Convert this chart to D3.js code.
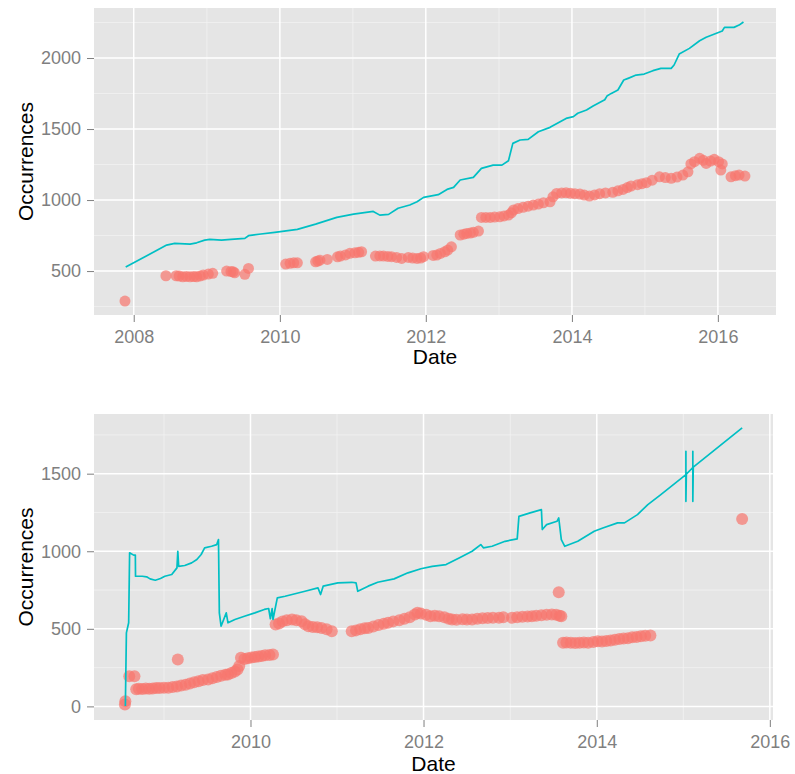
<!DOCTYPE html>
<html lang="en">

<head>
	<meta charset="utf-8">
	<title>Occurrences over time</title>
	<style>
		body {
			margin: 0;
			background: #fff;
			font-family: "Liberation Sans", Arial, sans-serif;
		}

		.tick text {
			fill: #7f7f7f;
			font-size: 18px;
		}

		.tick line {
			stroke: #7f7f7f;
		}

		.title {
			font-size: 21px;
			fill: #000;
		}
	</style>
</head>

<body>
	<svg></svg>

	<script src="https://d3js.org/d3.v7.min.js"></script>
	<script>
		// ---- top chart: decimal year + value ----
		var topLineDates = [2007.89, 2008.45, 2008.56, 2008.77, 2008.86, 2008.97, 2009.04, 2009.20, 2009.33, 2009.52,
			2009.57, 2009.74, 2009.93, 2010.24, 2010.49, 2010.78, 2011.01, 2011.28, 2011.37, 2011.49,
			2011.62, 2011.78, 2011.88, 2011.97, 2012.17, 2012.29, 2012.38, 2012.47, 2012.65, 2012.76,
			2012.92, 2013.04, 2013.13, 2013.19, 2013.29, 2013.40, 2013.54, 2013.70, 2013.92, 2014.02,
			2014.08, 2014.20, 2014.29, 2014.45, 2014.48, 2014.54, 2014.63, 2014.71, 2014.77, 2014.88,
			2014.99, 2015.11, 2015.22, 2015.36, 2015.40, 2015.47, 2015.61, 2015.75, 2015.84, 2016.06,
			2016.09, 2016.22, 2016.29, 2016.35];
		var topLineValues = [528, 683, 695, 690, 699, 718, 723, 718, 723, 730,
			749, 761, 773, 794, 831, 878, 901, 920, 894, 899,
			942, 965, 988, 1019, 1038, 1075, 1089, 1141, 1160, 1223,
			1246, 1246, 1277, 1399, 1423, 1427, 1481, 1512, 1575, 1587,
			1611, 1634, 1662, 1706, 1732, 1751, 1775, 1845, 1857, 1880,
			1887, 1911, 1927, 1927, 1951, 2028, 2068, 2122, 2146, 2190,
			2216, 2216, 2232, 2254];

		var topPointDates = [2007.88, 2008.44, 2008.58, 2008.62, 2008.67, 2008.72, 2008.77, 2008.82, 2008.86, 2008.91,
			2008.95, 2009.02, 2009.08, 2009.27, 2009.33, 2009.36, 2009.38, 2009.52, 2009.57, 2010.08,
			2010.14, 2010.19, 2010.24, 2010.49, 2010.52, 2010.55, 2010.65, 2010.79, 2010.83, 2010.90,
			2010.96, 2011.03, 2011.08, 2011.12, 2011.31, 2011.37, 2011.42, 2011.48, 2011.53, 2011.60,
			2011.67, 2011.76, 2011.82, 2011.88, 2011.93, 2011.97, 2012.10, 2012.15, 2012.20, 2012.26,
			2012.30, 2012.35, 2012.47, 2012.52, 2012.56, 2012.61, 2012.65, 2012.72, 2012.76, 2012.82,
			2012.88, 2012.94, 2013.01, 2013.07, 2013.13, 2013.17, 2013.20, 2013.26, 2013.33, 2013.40,
			2013.47, 2013.54, 2013.61, 2013.70, 2013.74, 2013.79, 2013.86, 2013.92, 2013.98, 2014.04,
			2014.11, 2014.17, 2014.24, 2014.31, 2014.38, 2014.46, 2014.56, 2014.63, 2014.70, 2014.76,
			2014.81, 2014.90, 2014.96, 2015.02, 2015.10, 2015.20, 2015.28, 2015.36, 2015.44, 2015.52,
			2015.59, 2015.63, 2015.68, 2015.75, 2015.80, 2015.84, 2015.90, 2015.95, 2016.01, 2016.06,
			2016.04, 2016.18, 2016.24, 2016.29, 2016.37];
		var topPointValues = [289, 467, 467, 465, 460, 462, 460, 461, 460, 466,
			472, 479, 484, 500, 497, 495, 488, 477, 519, 549,
			555, 558, 558, 565, 571, 577, 582, 600, 606, 614,
			625, 629, 632, 636, 606, 607, 606, 603, 601, 596,
			589, 596, 592, 589, 592, 601, 610, 613, 624, 636,
			648, 671, 754, 760, 765, 768, 773, 782, 878, 878,
			878, 880, 882, 888, 894, 910, 930, 940, 949, 957,
			965, 972, 981, 988, 1023, 1047, 1050, 1051, 1048, 1045,
			1042, 1035, 1028, 1036, 1045, 1050, 1055, 1065, 1075, 1088,
			1099, 1108, 1115, 1122, 1140, 1164, 1158, 1153, 1162, 1176,
			1199, 1254, 1270, 1294, 1280, 1258, 1275, 1287, 1270, 1254,
			1211, 1164, 1172, 1176, 1169];

		// ---- bottom chart ----
		var bottomLineDates = [2008.555, 2008.567, 2008.593, 2008.604, 2008.65, 2008.67, 2008.672, 2008.75, 2008.80, 2008.84,
			2008.90, 2008.96, 2009.01, 2009.09, 2009.15, 2009.16, 2009.17, 2009.24, 2009.32, 2009.38,
			2009.43, 2009.47, 2009.55, 2009.61, 2009.63, 2009.64, 2009.66, 2009.72, 2009.74, 2009.82,
			2009.93, 2010.05, 2010.16, 2010.21, 2010.23, 2010.25, 2010.26, 2010.31, 2010.40, 2010.63,
			2010.78, 2010.81, 2010.84, 2011.01, 2011.17, 2011.22, 2011.24, 2011.36, 2011.47, 2011.66,
			2011.82, 2011.97, 2012.10, 2012.26, 2012.41, 2012.56, 2012.66, 2012.69, 2012.79, 2012.94,
			2013.08, 2013.10, 2013.23, 2013.36, 2013.37, 2013.42, 2013.54, 2013.56, 2013.59, 2013.63,
			2013.78, 2013.97, 2014.07, 2014.24, 2014.32, 2014.47, 2014.59, 2014.74, 2015.03, 2015.03,
			2015.03, 2015.035, 2015.11, 2015.11, 2015.11, 2015.115, 2015.68];
		var bottomLineValues = [2, 474, 539, 990, 975, 975, 839, 839, 835, 822,
			813, 824, 839, 850, 893, 1000, 903, 908, 925, 947,
			979, 1022, 1032, 1043, 1075, 603, 517, 603, 539, 560,
			581, 603, 625, 631, 565, 630, 560, 700, 710, 742,
			764, 721, 775, 796, 800, 796, 742, 775, 800, 822,
			861, 887, 903, 914, 957, 1000, 1043, 1022, 1032, 1064,
			1080, 1225, 1247, 1268, 1140, 1172, 1193, 1215, 1075, 1032,
			1064, 1129, 1150, 1183, 1183, 1236, 1301, 1365, 1494, 1644,
			1322, 1497, 1540, 1644, 1322, 1542, 1795];

		var bottomPointDates = [2008.55, 2008.555, 2008.60, 2008.66, 2008.68, 2008.71, 2008.75, 2008.79, 2008.83, 2008.87,
			2008.91, 2008.95, 2009.00, 2009.05, 2009.10, 2009.16, 2009.15, 2009.20, 2009.25, 2009.30,
			2009.35, 2009.40, 2009.45, 2009.51, 2009.56, 2009.61, 2009.66, 2009.71, 2009.74, 2009.78,
			2009.82, 2009.85, 2009.87, 2009.89, 2009.93, 2009.97, 2010.01, 2010.05, 2010.09, 2010.13,
			2010.17, 2010.22, 2010.26, 2010.29, 2010.33, 2010.37, 2010.42, 2010.48, 2010.53, 2010.59,
			2010.63, 2010.67, 2010.72, 2010.77, 2010.82, 2010.88, 2010.94, 2011.17, 2011.22, 2011.27,
			2011.32, 2011.36, 2011.42, 2011.48, 2011.54, 2011.59, 2011.65, 2011.72, 2011.78, 2011.84,
			2011.90, 2011.93, 2011.97, 2012.03, 2012.08, 2012.13, 2012.18, 2012.24, 2012.29, 2012.33,
			2012.38, 2012.45, 2012.50, 2012.56, 2012.62, 2012.68, 2012.74, 2012.80, 2012.87, 2012.92,
			2013.02, 2013.08, 2013.14, 2013.20, 2013.25, 2013.30, 2013.36, 2013.42, 2013.48, 2013.53,
			2013.56, 2013.57, 2013.59, 2013.61, 2013.65, 2013.70, 2013.75, 2013.80, 2013.85, 2013.90,
			2013.96, 2014.01, 2014.06, 2014.11, 2014.16, 2014.21, 2014.26, 2014.31, 2014.36, 2014.41,
			2014.46, 2014.51, 2014.56, 2014.62, 2015.68];
		var bottomPointValues = [13, 34, 195, 195, 110, 114, 112, 115, 113, 116,
			118, 118, 120, 120, 125, 303, 128, 135, 140, 148,
			155, 162, 170, 174, 182, 190, 198, 204, 206, 215,
			225, 238, 260, 313, 305, 310, 315, 318, 322, 325,
			330, 332, 335, 528, 535, 548, 555, 560, 555, 549,
			530, 517, 512, 510, 506, 498, 485, 485, 490, 498,
			503, 506, 515, 525, 532, 539, 548, 555, 565, 575,
			592, 603, 598, 590, 581, 585, 581, 575, 565, 560,
			558, 562, 560, 560, 565, 568, 570, 572, 571, 575,
			571, 575, 578, 580, 581, 585, 588, 590, 592, 590,
			736, 585, 581, 410, 412, 410, 408, 410, 412, 411,
			415, 420, 418, 422, 425, 430, 435, 438, 440, 445,
			448, 452, 455, 457, 1208];

		var topXTicks = [2008, 2010, 2012, 2014, 2016];
		var topYTicks = [500, 1000, 1500, 2000];
		var bottomXTicks = [2010, 2012, 2014, 2016];
		var bottomYTicks = [0, 500, 1000, 1500];

		var width = 795,
			height = 774;

		var svg = d3.select("svg")
			.attr("width", width)
			.attr("height", height);

		// decimal year -> Date
		function toDate(y) {
			var yr = Math.floor(y);
			var start = new Date(yr, 0, 1),
				end = new Date(yr + 1, 0, 1);
			return new Date(+start + (y - yr) * (end - start));
		}

		// ggplot style 5% padding
		function expand(ext) {
			var pad = (ext[1] - ext[0]) * 0.05;
			return [ext[0] - pad, ext[1] + pad];
		}

		function midpoints(ticks, dom) {
			var step = ticks[1] - ticks[0];
			var out = [];
			for (var v = ticks[0] - step / 2; v <= dom[1]; v += step) {
				if (v >= dom[0]) out.push(v);
			}
			return out;
		}

		function drawPanel(opt) {
			var left = opt.box[0],
				top = opt.box[1],
				right = opt.box[2],
				bottom = opt.box[3];

			var xDom = expand(d3.extent(opt.lineDates.concat(opt.pointDates)));
			var yDom = expand(d3.extent(opt.lineValues.concat(opt.pointValues)));

			var x = d3.scaleTime()
				.domain([toDate(xDom[0]), toDate(xDom[1])])
				.range([left, right]);
			var y = d3.scaleLinear()
				.domain(yDom)
				.range([bottom, top]);

			var g = svg.append("g");

			g.append("rect")
				.attr("x", left)
				.attr("y", top)
				.attr("width", right - left)
				.attr("height", bottom - top)
				.attr("fill", "#e5e5e5");

			// minor grid
			midpoints(opt.xTicks, xDom).forEach(function(v) {
				g.append("line")
					.attr("x1", x(toDate(v))).attr("x2", x(toDate(v)))
					.attr("y1", top).attr("y2", bottom)
					.attr("stroke", "#f2f2f2").attr("stroke-width", 0.8);
			});
			midpoints(opt.yTicks, yDom).forEach(function(v) {
				g.append("line")
					.attr("x1", left).attr("x2", right)
					.attr("y1", y(v)).attr("y2", y(v))
					.attr("stroke", "#f2f2f2").attr("stroke-width", 0.8);
			});

			// major grid
			opt.xTicks.forEach(function(v) {
				g.append("line")
					.attr("x1", x(toDate(v))).attr("x2", x(toDate(v)))
					.attr("y1", top).attr("y2", bottom)
					.attr("stroke", "#fff").attr("stroke-width", 1.5);
			});
			opt.yTicks.forEach(function(v) {
				g.append("line")
					.attr("x1", left).attr("x2", right)
					.attr("y1", y(v)).attr("y2", y(v))
					.attr("stroke", "#fff").attr("stroke-width", 1.5);
			});

			// points
			g.append("g")
				.selectAll("circle")
				.data(opt.pointDates.map(function(d, i) {
					return [d, opt.pointValues[i]];
				}))
				.enter().append("circle")
				.attr("cx", function(d) { return x(toDate(d[0])); })
				.attr("cy", function(d) { return y(d[1]); })
				.attr("r", opt.r)
				.attr("fill", "#f8766d")
				.attr("fill-opacity", 0.7);

			// line
			var line = d3.line()
				.x(function(d) { return x(toDate(d[0])); })
				.y(function(d) { return y(d[1]); });

			g.append("path")
				.datum(opt.lineDates.map(function(d, i) {
					return [d, opt.lineValues[i]];
				}))
				.attr("d", line)
				.attr("fill", "none")
				.attr("stroke", "#00bfc4")
				.attr("stroke-width", 1.7)
				.attr("stroke-linejoin", "round");

			// axes
			var xAxis = d3.axisBottom(x)
				.tickValues(opt.xTicks.map(toDate))
				.tickFormat(d3.timeFormat("%Y"))
				.tickSize(7)
				.tickPadding(8);
			g.append("g")
				.attr("transform", "translate(0," + bottom + ")")
				.call(xAxis)
				.call(function(s) { s.select(".domain").remove(); });

			var yAxis = d3.axisLeft(y)
				.tickValues(opt.yTicks)
				.tickFormat(d3.format("d"))
				.tickSize(7)
				.tickPadding(6);
			g.append("g")
				.attr("transform", "translate(" + left + ",0)")
				.call(yAxis)
				.call(function(s) { s.select(".domain").remove(); });

			// let the css decide the font
			g.selectAll("g").attr("font-family", null).attr("font-size", null);

			// titles
			g.append("text")
				.attr("class", "title")
				.attr("x", (left + right) / 2)
				.attr("y", opt.dateY)
				.attr("text-anchor", "middle")
				.text("Date");

			g.append("text")
				.attr("class", "title")
				.attr("transform", "translate(33," + ((top + bottom) / 2) + ") rotate(-90)")
				.attr("text-anchor", "middle")
				.text("Occurrences");
		}

		drawPanel({
			box: [94, 8, 776, 315],
			lineDates: topLineDates,
			lineValues: topLineValues,
			pointDates: topPointDates,
			pointValues: topPointValues,
			xTicks: topXTicks,
			yTicks: topYTicks,
			r: 5.5,
			dateY: 364
		});

		drawPanel({
			box: [94, 414, 773, 720],
			lineDates: bottomLineDates,
			lineValues: bottomLineValues,
			pointDates: bottomPointDates,
			pointValues: bottomPointValues,
			xTicks: bottomXTicks,
			yTicks: bottomYTicks,
			r: 6,
			dateY: 771
		});
	</script>
</body>

</html>
